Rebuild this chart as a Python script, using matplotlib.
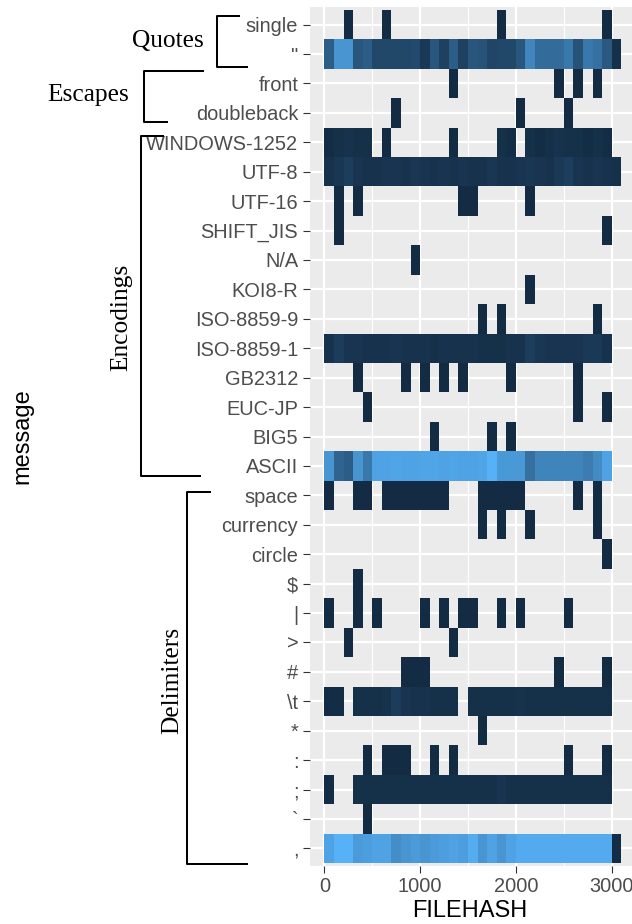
import numpy as np
import matplotlib
matplotlib.use("Agg")
import matplotlib.pyplot as plt
from matplotlib.colors import LinearSegmentedColormap, Normalize
from matplotlib.lines import Line2D

plt.rcParams["font.family"] = ["Liberation Sans", "DejaVu Sans"]

# FILEHASH bins (width 100)
bin_starts = list(range(0, 3100, 100))

# y categories, top to bottom
messages = ["single", '"', "front", "doubleback", "WINDOWS-1252", "UTF-8", "UTF-16",
            "SHIFT_JIS", "N/A", "KOI8-R", "ISO-8859-9", "ISO-8859-1", "GB2312",
            "EUC-JP", "BIG5", "ASCII", "space", "currency", "circle", "$", "|", ">",
            "#", "\\t", "*", ":", ";", "`", ","]

# sparse rows: FILEHASH bins holding a single hit
single_hits = [200, 600, 1800, 2900]
front_hits = [1300, 2400, 2600, 2800]
doubleback_hits = [700, 2000, 2500]
utf16_hits = [100, 300, 1400, 1500, 2100]
shift_jis_hits = [100, 2900]
na_hits = [900]
koi8r_hits = [2100]
iso88599_hits = [1600, 1800, 2800]
gb2312_hits = [300, 800, 1000, 1200, 1400, 1900, 2600]
eucjp_hits = [400, 2600, 2900]
big5_hits = [1100, 1700, 1900]
space_hits = [0, 300, 400, 600, 700, 800, 900, 1000, 1100, 1200,
              1600, 1700, 1800, 1900, 2000, 2600, 2800]
currency_hits = [1600, 1800, 2100, 2800]
circle_hits = [2900]
dollar_hits = [300]
pipe_hits = [0, 300, 500, 1000, 1200, 1400, 1500, 1800, 2000, 2500]
gt_hits = [200, 1300]
hash_hits = [800, 900, 1000, 2400, 2900]
star_hits = [1600]
colon_hits = [400, 600, 700, 800, 1100, 1300, 2500, 2900]
grave_hits = [400]

# dense rows: counts per bin (0 = no tile)
dquote_counts = [22, 45, 45, 19, 22, 13, 13, 13, 13, 14, 7, 19, 10, 22, 10, 19,
                 18, 12, 13, 13, 19, 39, 28, 28, 28, 33, 18, 33, 30, 20, 3]
win1252_counts = [2, 3, 4, 3, 3, 0, 1, 0, 0, 0, 0, 0, 0, 1, 0, 0,
                  0, 0, 3, 2, 0, 3, 2, 3, 4, 3, 3, 2, 3, 2, 0]
utf8_counts = [4, 6, 9, 5, 4, 4, 5, 5, 4, 6, 5, 4, 5, 4, 5, 4,
               4, 6, 4, 4, 5, 6, 5, 4, 7, 9, 5, 4, 5, 4, 3]
iso88591_counts = [4, 8, 5, 5, 4, 4, 4, 5, 4, 4, 4, 3, 4, 4, 4, 4,
                   3, 3, 3, 4, 4, 9, 6, 5, 5, 5, 5, 7, 7, 4, 0]
ascii_counts = [45, 25, 22, 45, 33, 51, 51, 52, 51, 51, 52, 52, 51, 52, 51, 51,
                52, 57, 47, 47, 47, 30, 38, 38, 38, 38, 38, 35, 41, 51, 0]
tab_counts = [2, 2, 0, 3, 3, 3, 4, 8, 5, 4, 4, 3, 3, 3, 0, 3,
              3, 3, 3, 3, 4, 3, 3, 3, 3, 3, 3, 3, 3, 3, 0]
semicolon_counts = [2, 0, 0, 3, 3, 3, 3, 3, 3, 3, 3, 3, 3, 3, 3, 3,
                    3, 3, 5, 3, 3, 3, 3, 3, 3, 3, 3, 3, 3, 3, 0]
comma_counts = [51, 57, 57, 48, 49, 51, 51, 42, 45, 48, 45, 48, 49, 51, 49, 55,
                45, 51, 45, 51, 54, 54, 54, 54, 54, 54, 54, 54, 54, 54, 2]


def hits_row(hits):
    r = np.zeros(len(bin_starts))
    r[np.searchsorted(bin_starts, hits)] = 1
    return r


rows = [hits_row(single_hits), dquote_counts, hits_row(front_hits),
        hits_row(doubleback_hits), win1252_counts, utf8_counts,
        hits_row(utf16_hits), hits_row(shift_jis_hits), hits_row(na_hits),
        hits_row(koi8r_hits), hits_row(iso88599_hits), iso88591_counts,
        hits_row(gb2312_hits), hits_row(eucjp_hits), hits_row(big5_hits),
        ascii_counts, hits_row(space_hits), hits_row(currency_hits),
        hits_row(circle_hits), hits_row(dollar_hits), hits_row(pipe_hits),
        hits_row(gt_hits), hits_row(hash_hits), tab_counts, hits_row(star_hits),
        hits_row(colon_hits), semicolon_counts, hits_row(grave_hits), comma_counts]

Z = np.array(rows, dtype=float)[::-1]  # bottom row first
Z = np.ma.masked_equal(Z, 0)
n = len(messages)

W, H = 632, 924
fig = plt.figure(figsize=(W / 100, H / 100), dpi=100)
ax = fig.add_axes([309.5 / W, (H - 866) / H, (W - 309.5) / W, 859 / H])
ax.set_facecolor("#EBEBEB")

cmap = LinearSegmentedColormap.from_list("gg", ["#132B43", "#56B1F7"])
x_edges = np.append(bin_starts, 3100)
y_edges = np.arange(0.5, n + 1, 1)
ax.pcolormesh(x_edges, y_edges, Z, cmap=cmap,
              norm=Normalize(vmin=Z.min(), vmax=Z.max()), zorder=2)

ax.set_xlim(-155, 3212)
ax.set_ylim(0.4, n + 0.6)
ax.set_xticks([0, 1000, 2000, 3000])
ax.set_xticks([500, 1500, 2500], minor=True)
ax.set_yticks(np.arange(1, n + 1))
ax.set_yticklabels(messages[::-1])

ax.grid(which="major", color="white", linewidth=1.6, zorder=0)
ax.grid(which="minor", axis="x", color="white", linewidth=0.85, zorder=0)
ax.set_axisbelow(True)
for s in ax.spines.values():
    s.set_visible(False)

ax.tick_params(which="major", length=4.7, width=0.8, color="#333333",
               labelcolor="#4D4D4D", labelsize=14.4, pad=3.4)
ax.tick_params(which="minor", length=0)


def fx(x):
    return x / W


def fy(y):
    return 1 - y / H


fig.text(fx(470), fy(911), "FILEHASH", ha="center", va="center", fontsize=17)
fig.text(fx(22), fy(436), "message", ha="center", va="center", fontsize=17,
         rotation=90)

# group brackets and labels
brackets = [
    [(239, 15.7), (216.7, 15.7), (216.7, 66.7), (247, 66.7)],
    [(202.7, 70.7), (144, 70.7), (144, 121.7), (166.7, 121.7)],
    [(163, 136), (140.7, 136), (140.7, 475.7), (200, 475.7)],
    [(210, 491.7), (187.3, 491.7), (187.3, 864), (247, 864)],
]
for pts in brackets:
    xs = [fx(p[0]) for p in pts]
    ys = [fy(p[1]) for p in pts]
    fig.add_artist(Line2D(xs, ys, color="black", linewidth=1.45,
                          transform=fig.transFigure))

serif = ["Liberation Serif", "DejaVu Serif"]
fig.text(fx(168), fy(41), "Quotes", ha="center", va="center", fontsize=18.3,
         family=serif)
fig.text(fx(88.5), fy(95), "Escapes", ha="center", va="center", fontsize=18.3,
         family=serif)
fig.text(fx(121), fy(317), "Encodings", ha="center", va="center", fontsize=18.3,
         family=serif, rotation=90)
fig.text(fx(172), fy(680), "Delimiters", ha="center", va="center", fontsize=18.3,
         family=serif, rotation=90)

fig.savefig("out.png", dpi=100)
